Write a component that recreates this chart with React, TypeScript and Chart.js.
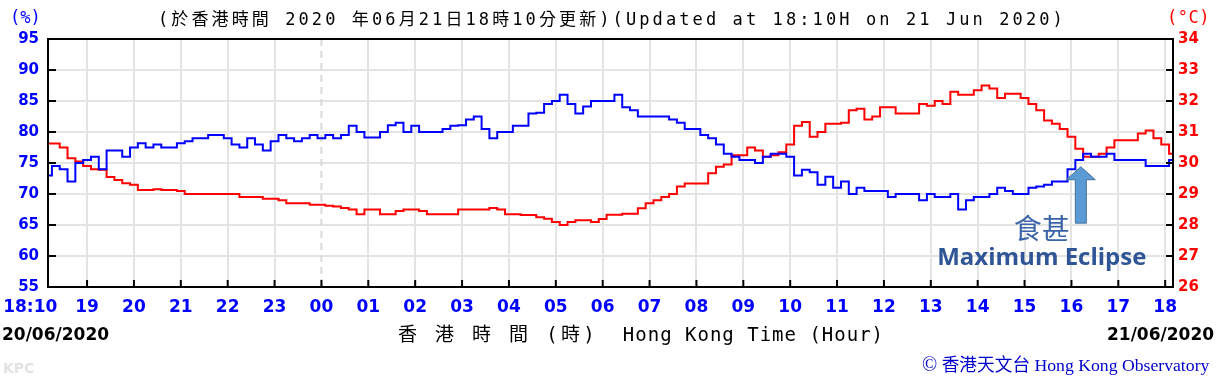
import React, { useEffect, useRef } from 'react';
import { Chart, registerables } from 'chart.js';

Chart.register(...registerables);

// ---- data ----
const SAMPLE_STEP_MINUTES = 10; // minutes between samples, starting 18:10 on 20/06/2020

const X_TICK_MINUTES = [0, 50, 110, 170, 230, 290, 350, 410, 470, 530, 590, 650, 710, 770, 830, 890, 950, 1010, 1070, 1130, 1190, 1250, 1310, 1370, 1430];
const X_TICK_LABELS = ['18:10', '19', '20', '21', '22', '23', '00', '01', '02', '03', '04', '05', '06', '07', '08', '09', '10', '11', '12', '13', '14', '15', '16', '17', '18'];

const HUMIDITY = [
  73, 74.5, 74, 72, 75, 75.5, 76, 74, 77, 77, 76, 77.5,
  78.2, 77.5, 78, 77.5, 77.5, 78.2, 78.5, 79, 79, 79.5, 79.5, 79,
  78, 77.5, 79, 78, 77, 78.5, 79.5, 79, 78.5, 79, 79.5, 79,
  79.5, 79, 79.5, 81, 80, 79.1, 79.1, 80, 81.1, 81.5, 80, 81,
  80, 80, 80, 80.5, 81, 81.1, 82, 82.5, 80.5, 79, 80, 80,
  81, 81, 83, 83.1, 84.5, 85, 86, 84.5, 83, 84.1, 85, 85,
  85, 86, 84, 83.5, 82.5, 82.5, 82.5, 82.5, 82, 81.5, 80.5, 80.5,
  79.5, 79, 78, 76.5, 76, 75.5, 75.5, 75, 76, 76.5, 76.5, 76,
  73, 73.9, 73.5, 71.5, 72.8, 71, 72, 70, 71, 70.5, 70.5, 70.5,
  69.5, 70, 70, 70, 69, 70, 69.5, 69.5, 70, 67.5, 69, 69.5,
  69.5, 70, 71, 70.5, 70, 70, 71, 71.2, 71.5, 72, 72, 74,
  75.5, 76.5, 76, 76, 76.5, 75.5, 75.5, 75.5, 75.5, 74.5, 74.5, 74.5,
  75.5,
];

const TEMPERATURE = [
  30.63, 30.63, 30.5, 30.15, 30.05, 29.9, 29.8, 29.78, 29.55, 29.45, 29.35, 29.3,
  29.13, 29.13, 29.15, 29.13, 29.13, 29.1, 29.0, 29.0, 29.0, 29.0, 29.0, 29.0,
  29.0, 28.9, 28.9, 28.9, 28.85, 28.85, 28.8, 28.7, 28.7, 28.7, 28.65, 28.65,
  28.62, 28.6, 28.55, 28.5, 28.35, 28.5, 28.5, 28.35, 28.35, 28.45, 28.5, 28.5,
  28.45, 28.35, 28.35, 28.35, 28.35, 28.5, 28.5, 28.5, 28.5, 28.55, 28.5, 28.35,
  28.35, 28.32, 28.32, 28.25, 28.2, 28.1, 28.0, 28.1, 28.15, 28.15, 28.1, 28.19,
  28.33, 28.33, 28.36, 28.36, 28.54, 28.7, 28.8, 28.9, 29.0, 29.24, 29.34, 29.34,
  29.34, 29.67, 29.88, 29.95, 30.25, 30.25, 30.5, 30.4, 30.2, 30.25, 30.35, 30.6,
  31.2, 31.32, 30.85, 31.0, 31.27, 31.27, 31.3, 31.7, 31.75, 31.4, 31.5, 31.8,
  31.8, 31.6, 31.6, 31.6, 31.9, 31.85, 32.0, 31.9, 32.3, 32.2, 32.2, 32.35,
  32.5, 32.4, 32.1, 32.23, 32.23, 32.1, 31.9, 31.7, 31.37, 31.27, 31.1, 30.85,
  30.46, 30.2, 30.2, 30.3, 30.5, 30.73, 30.73, 30.73, 30.95, 31.05, 30.8, 30.6,
  30.3,
];

const HUMIDITY_RANGE = [55, 95];
const TEMPERATURE_RANGE = [26, 34];
const MIDNIGHT_MINUTE = 350;
const ECLIPSE_MINUTE = 1322; // maximum eclipse marker (arrow)
const ECLIPSE_ARROW_TIP = 74.4; // humidity-axis level of arrow tip
const ECLIPSE_ARROW_BASE = 65.3; // humidity-axis level of arrow tail

// ---- styles ----
const BLUE = '#0000ff';
const RED = '#ff0000';
const GRID = '#e4e4e4';
const NOTE_BLUE = '#2f5597';

const framePlugin = {
  id: 'frame',
  beforeDatasetsDraw(chart: any) {
    const { ctx, chartArea: a, scales } = chart;
    const x = scales.x.getPixelForValue(MIDNIGHT_MINUTE);
    ctx.save();
    ctx.strokeStyle = '#d9d9d9';
    ctx.lineWidth = 2;
    ctx.setLineDash([7, 5]);
    ctx.beginPath();
    ctx.moveTo(x, a.top);
    ctx.lineTo(x, a.bottom);
    ctx.stroke();
    ctx.restore();
  },
  afterDatasetsDraw(chart: any) {
    const { ctx, chartArea: a, scales } = chart;
    ctx.save();
    ctx.strokeStyle = '#000';
    ctx.lineWidth = 2;
    ctx.strokeRect(a.left, a.top, a.right - a.left, a.bottom - a.top);
    ctx.beginPath();
    scales.yHum.ticks.forEach((t: any) => {
      const y = scales.yHum.getPixelForValue(t.value);
      ctx.moveTo(a.left, y);
      ctx.lineTo(a.left + 8, y);
    });
    scales.yTemp.ticks.forEach((t: any) => {
      const y = scales.yTemp.getPixelForValue(t.value);
      ctx.moveTo(a.right - 7, y);
      ctx.lineTo(a.right, y);
    });
    scales.x.ticks.forEach((t: any) => {
      const x = scales.x.getPixelForValue(t.value);
      ctx.moveTo(x, a.bottom);
      ctx.lineTo(x, a.bottom - 7);
    });
    ctx.stroke();
    ctx.restore();
  },
};

const eclipsePlugin = {
  id: 'eclipse',
  afterDatasetsDraw(chart: any) {
    const { ctx, scales } = chart;
    const cx = scales.x.getPixelForValue(ECLIPSE_MINUTE);
    const tip = scales.yHum.getPixelForValue(ECLIPSE_ARROW_TIP);
    const tail = scales.yHum.getPixelForValue(ECLIPSE_ARROW_BASE);
    const headH = 13;
    const headW = 14.5;
    const shaftW = 5.5;
    ctx.save();
    ctx.beginPath();
    ctx.moveTo(cx, tip);
    ctx.lineTo(cx + headW, tip + headH);
    ctx.lineTo(cx + shaftW, tip + headH);
    ctx.lineTo(cx + shaftW, tail);
    ctx.lineTo(cx - shaftW, tail);
    ctx.lineTo(cx - shaftW, tip + headH);
    ctx.lineTo(cx - headW, tip + headH);
    ctx.closePath();
    ctx.fillStyle = '#5b9bd5';
    ctx.fill();
    ctx.strokeStyle = '#41719c';
    ctx.lineWidth = 1;
    ctx.stroke();

    const tx = cx - 39;
    ctx.textAlign = 'center';
    ctx.textBaseline = 'middle';
    ctx.fillStyle = '#3a63a8';
    ctx.font = '28px "Noto Sans CJK TC"';
    ctx.fillText('食甚', tx, tail + 5);
    ctx.fillStyle = NOTE_BLUE;
    ctx.font = 'bold 24px "Open Sans"';
    ctx.fillText('Maximum Eclipse', tx, tail + 35);
    ctx.restore();
  },
};

export default function App() {
  const ref = useRef<HTMLCanvasElement>(null);

  useEffect(() => {
    const canvas = ref.current;
    if (!canvas) return;
    const humPts = HUMIDITY.map((v, i) => ({ x: i * SAMPLE_STEP_MINUTES, y: v }));
    const tmpPts = TEMPERATURE.map((v, i) => ({ x: i * SAMPLE_STEP_MINUTES, y: v }));
    const tickFont = { family: '"DejaVu Sans", sans-serif', weight: 'bold' as const, size: 15 };

    const chart = new Chart(canvas, {
      type: 'line',
      data: {
        datasets: [
          {
            label: 'Relative Humidity (%)',
            data: humPts,
            yAxisID: 'yHum',
            borderColor: BLUE,
            borderWidth: 2,
            pointRadius: 0,
            stepped: 'middle',
            fill: false,
          },
          {
            label: 'Temperature (°C)',
            data: tmpPts,
            yAxisID: 'yTemp',
            borderColor: RED,
            borderWidth: 2,
            pointRadius: 0,
            stepped: 'middle',
            fill: false,
          },
        ],
      },
      options: {
        animation: false,
        responsive: false,
        devicePixelRatio: 1,
        layout: { padding: { top: 39, left: 0, right: 0, bottom: 0 } },
        plugins: {
          legend: { display: false },
          tooltip: { enabled: false },
          title: { display: false },
        },
        scales: {
          x: {
            type: 'linear',
            min: 0,
            max: 1440,
            afterBuildTicks: (axis: any) => {
              axis.ticks = X_TICK_MINUTES.map((v) => ({ value: v }));
            },
            afterFit: (axis: any) => {
              axis.height = 91;
              axis.paddingLeft = 0;
              axis.paddingRight = 0;
            },
            ticks: {
              autoSkip: false,
              maxRotation: 0,
              minRotation: 0,
              padding: 10,
              color: BLUE,
              font: { family: '"DejaVu Sans", sans-serif', weight: 'bold', size: 17 },
              callback: (value: any) => {
                const i = X_TICK_MINUTES.indexOf(Number(value));
                if (i < 0) return '';
                return i === 0 ? X_TICK_LABELS[i] + '      ' : X_TICK_LABELS[i];
              },
            },
            grid: {
              color: (c: any) =>
                c.tick && (c.tick.value === MIDNIGHT_MINUTE || c.tick.value === 0) ? 'rgba(0,0,0,0)' : GRID,
              lineWidth: 2,
              drawTicks: false,
            },
            border: { display: false },
          },
          yHum: {
            type: 'linear',
            position: 'left',
            min: HUMIDITY_RANGE[0],
            max: HUMIDITY_RANGE[1],
            afterFit: (axis: any) => {
              axis.width = 48;
              axis.paddingTop = 0;
              axis.paddingBottom = 0;
            },
            ticks: { stepSize: 5, padding: 9, color: BLUE, font: tickFont },
            grid: { color: GRID, lineWidth: 2, drawTicks: false },
            border: { display: false },
          },
          yTemp: {
            type: 'linear',
            position: 'right',
            min: TEMPERATURE_RANGE[0],
            max: TEMPERATURE_RANGE[1],
            afterFit: (axis: any) => {
              axis.width = 46;
              axis.paddingTop = 0;
              axis.paddingBottom = 0;
            },
            ticks: { stepSize: 1, padding: 5, color: RED, font: tickFont },
            grid: { drawOnChartArea: false, drawTicks: false },
            border: { display: false },
          },
        },
      },
      plugins: [framePlugin, eclipsePlugin],
    });
    return () => chart.destroy();
  }, []);

  const abs = (s: React.CSSProperties): React.CSSProperties => ({ position: 'absolute', whiteSpace: 'pre', margin: 0, ...s });

  return (
    <div style={{ position: 'absolute', left: 0, top: 0, width: 1219, height: 378, background: '#fff', overflow: 'hidden' }}>
      <canvas ref={ref} width={1219} height={378} style={{ display: 'block', width: 1219, height: 378 }} />
      <div style={abs({ left: 10, top: 7, font: '17px "DejaVu Sans Mono", monospace', color: BLUE, lineHeight: '20px' })}>(%)</div>
      <div style={abs({ left: 1167, top: 7, font: '17px "DejaVu Sans Mono", monospace', color: RED, lineHeight: '20px', letterSpacing: '0.5px' })}>(°C)</div>
      <div
        style={abs({
          left: 0,
          top: 9,
          width: 1224,
          textAlign: 'center',
          font: '17px "DejaVu Sans Mono", "Noto Sans CJK TC", monospace',
          letterSpacing: '3.1px',
          color: '#000',
          lineHeight: '20px',
        })}
      >
        (於香港時間 2020 年06月21日18時10分更新)(Updated at 18:10H on 21 Jun 2020)
      </div>
      <div style={abs({ left: 2, top: 325, font: 'bold 17px "DejaVu Sans", sans-serif', color: '#000', lineHeight: '18px' })}>20/06/2020</div>
      <div style={abs({ left: 1107, top: 325, font: 'bold 17px "DejaVu Sans", sans-serif', color: '#000', lineHeight: '18px' })}>21/06/2020</div>
      <div style={abs({ left: 398, top: 323, font: '19px "DejaVu Sans Mono", "Noto Sans CJK TC", monospace', color: '#000', lineHeight: '22px' })}>
        <span style={{ letterSpacing: '3.3px' }}>香 港 時 間 (時)</span>
        <span style={{ letterSpacing: '1px' }}>  Hong Kong Time (Hour)</span>
      </div>
      <div style={abs({ left: 922, top: 354, font: '17.7px "Liberation Serif", "Noto Sans CJK TC", serif', color: '#0000cc', lineHeight: '20px' })}>
        <span style={{ fontSize: 20 }}>©</span> 香港天文台 Hong Kong Observatory
      </div>
      <div style={abs({ left: 3, top: 360, font: 'bold 14px "DejaVu Sans", sans-serif', color: '#e2e2e2', lineHeight: '16px' })}>KPC</div>
    </div>
  );
}
